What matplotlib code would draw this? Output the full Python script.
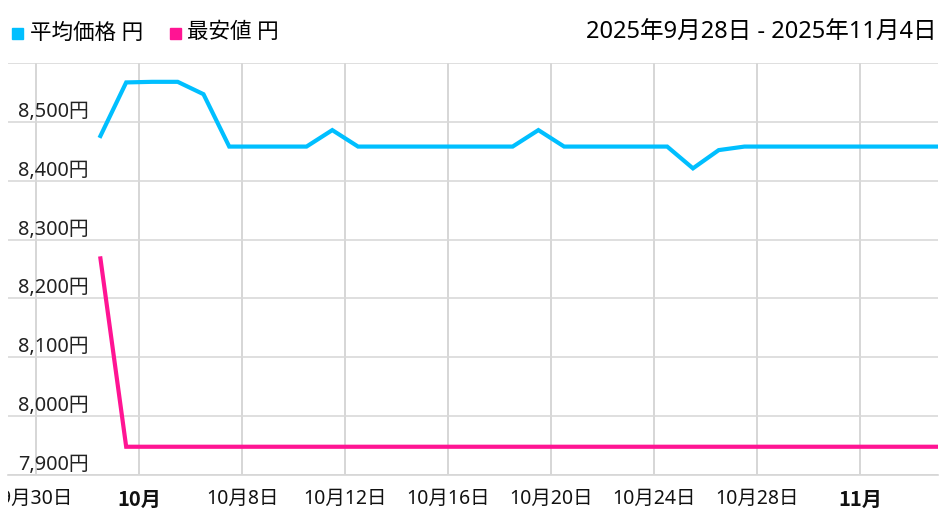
import datetime as dt
import matplotlib
matplotlib.use('Agg')
import matplotlib.pyplot as plt
import matplotlib.dates as mdates
from matplotlib.transforms import Bbox, TransformedBbox, blended_transform_factory

# ラテン文字はNoto Sans、漢字はNoto CJK
plt.rcParams['font.family'] = ['Noto Sans', 'Noto Sans CJK JP']

# 日次データ (各日の正午)
start_day = dt.datetime(2025, 10, 2, 12)
avg_price = [8476, 8567, 8568, 8568, 8547,
             8458, 8458, 8458, 8458, 8486,
             8458, 8458, 8458, 8458, 8458, 8458, 8458, 8486,
             8458, 8458, 8458, 8458, 8458, 8421, 8452,
             8458, 8458, 8458, 8458, 8458, 8458, 8458, 8458, 8458]
min_price = [8268] + [7948] * 33
days = [start_day + dt.timedelta(days=i) for i in range(len(avg_price))]

tick_dates = [dt.datetime(2025, 9, 30) + dt.timedelta(days=4 * i) for i in range(9)]
tick_labels = ['9月30日', '10月', '10月8日', '10月12日', '10月16日',
               '10月20日', '10月24日', '10月28日', '11月']
bold_labels = ['10月', '11月']
y_ticks = [7900, 8000, 8100, 8200, 8300, 8400, 8500, 8600]

W, H = 949, 525
fig = plt.figure(figsize=(W / 100, H / 100), dpi=100)
ax = fig.add_axes([8 / W, 50 / H, (937.7 - 8) / W, 412 / H])

ax.plot(days, avg_price, color='#00BFFF', lw=3, solid_joinstyle='miter', zorder=3)
ax.plot(days, min_price, color='#FF1493', lw=3, solid_joinstyle='miter', zorder=3)

x0 = mdates.date2num(dt.datetime(2025, 9, 30)) - 28 / 25.75
x1 = mdates.date2num(dt.datetime(2025, 11, 4))
ax.set_xlim(x0, x1)
ax.set_ylim(7900, 8600)

for s in ['top', 'right', 'left']:
    ax.spines[s].set_visible(False)
ax.spines['bottom'].set_color('#d6d6d6')
ax.spines['bottom'].set_linewidth(1.2)

ax.set_yticks(y_ticks)
ax.set_yticklabels([])
ax.tick_params(axis='y', length=0)
ax.grid(axis='y', color='#d9d9d9', lw=1.2)
ax.set_xticks(mdates.date2num(tick_dates))
ax.set_xticklabels(tick_labels, fontsize=14, color='#111111')
ax.tick_params(axis='x', length=0, pad=10)
ax.grid(axis='x', color='#cfcfcf', lw=1.2)
ax.set_axisbelow(True)

# 月の区切りは太字
for lbl in ax.get_xticklabels():
    if lbl.get_text() in bold_labels:
        lbl.set_fontfamily(['Noto Sans CJK JP'])
        lbl.set_fontweight('bold')
        lbl.set_fontsize(14.5)
clip = TransformedBbox(Bbox([[8 / W, 0], [1, 1]]), fig.transFigure)
first = ax.get_xticklabels()[0]
first.set_clip_on(True)
first.set_clip_box(clip)

# y軸ラベル (プロット内、グリッド線の上)
trans = blended_transform_factory(fig.transFigure, ax.transData)
for v in y_ticks[:-1]:
    fig.text(18 / W, v, f'{v:,}円', transform=trans, fontsize=14.3,
             color='#222222', ha='left', va='bottom')

# 凡例
fig.patches.append(plt.Rectangle((12 / W, 1 - 39 / H), 11 / W, 11 / H,
                                 transform=fig.transFigure, color='#00BFFF'))
fig.text(30 / W, 1 - 33 / H, '平均価格 円', fontsize=15.5, va='center', ha='left')
fig.patches.append(plt.Rectangle((170 / W, 1 - 39 / H), 11 / W, 11 / H,
                                 transform=fig.transFigure, color='#FF1493'))
fig.text(187 / W, 1 - 33 / H, '最安値 円', fontsize=15.5, va='center', ha='left')

fig.text(937 / W, 1 - 33 / H, '2025年9月28日 - 2025年11月4日', fontsize=17,
         va='center', ha='right')

fig.savefig('out.png', dpi=100)
